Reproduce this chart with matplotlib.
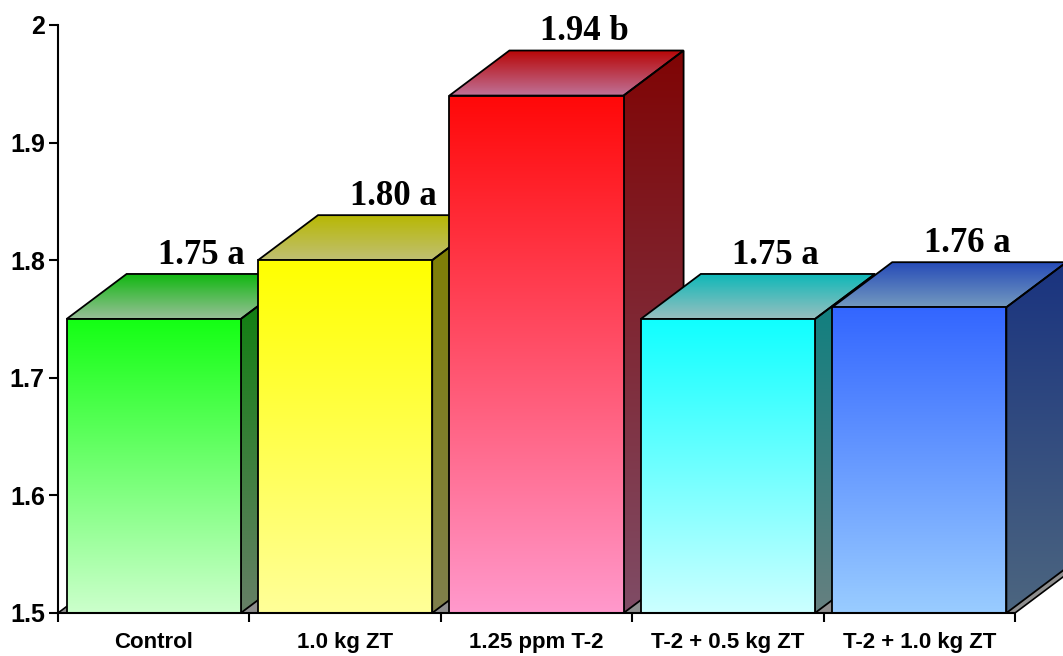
import numpy as np
import matplotlib
matplotlib.use("Agg")
import matplotlib.pyplot as plt
from matplotlib.patches import Polygon
from matplotlib.colors import to_rgb

# Data
categories = ["Control", "1.0 kg ZT", "1.25 ppm T-2", "T-2 + 0.5 kg ZT", "T-2 + 1.0 kg ZT"]
values = [1.75, 1.80, 1.94, 1.75, 1.76]
letters = ["a", "a", "b", "a", "a"]
top_colors = ["#14FF14", "#FFFF00", "#FF0808", "#10FFFF", "#3366FF"]
bottom_colors = ["#CCFFCC", "#FFFF99", "#FF99CC", "#CCFFFF", "#99CCFF"]
y_ticks = [1.5, 1.6, 1.7, 1.8, 1.9, 2.0]
y_tick_labels = ["1.5", "1.6", "1.7", "1.8", "1.9", "2"]

BASE = 1.5
WIDTH = 0.91      # bar width in category units
DX = 0.3135       # oblique depth, x (category units)
DY = 0.0383       # oblique depth, y (data units)

fig = plt.figure(figsize=(10.63, 6.56), dpi=100)
ax = fig.add_axes([58 / 1063, 43 / 656, 1005 / 1063, 588 / 656])
ax.set_xlim(-0.5, -0.5 + 5 * 1005 / 957)
ax.set_ylim(BASE, 2.0)


def shaded_face(verts, c_top, c_bottom, z):
    """Fill a polygon with a vertical gradient and outline it."""
    xs = [v[0] for v in verts]
    ys = [v[1] for v in verts]
    t = np.linspace(0, 1, 256)[:, None]
    grad = (1 - t) * np.array(c_top) + t * np.array(c_bottom)
    im = ax.imshow(grad[:, None, :], extent=(min(xs), max(xs), min(ys), max(ys)),
                   origin="upper", aspect="auto", interpolation="bilinear", zorder=z)
    im.set_clip_path(Polygon(verts, closed=True, transform=ax.transData))
    ax.add_patch(Polygon(verts, closed=True, facecolor="none", edgecolor="black",
                         lw=1.3, zorder=z + 0.1, joinstyle="miter"))


def scale(c, f):
    return tuple(min(1.0, ch * f) for ch in to_rgb(c))


# Floor
floor = [(-0.5, BASE), (4.5, BASE), (4.5 + DX, BASE + DY), (-0.5 + DX, BASE + DY)]
ax.add_patch(Polygon(floor, closed=True, facecolor="#8E8E8E", edgecolor="black",
                     lw=1.2, zorder=1))

# Bars, drawn left to right so each bar hides the side of its neighbour
for i, (v, ct, cb) in enumerate(zip(values, top_colors, bottom_colors)):
    x0 = i - WIDTH / 2
    x1 = i + WIDTH / 2
    z = 2 + 2 * i
    side = [(x1, BASE), (x1 + DX, BASE + DY), (x1 + DX, v + DY), (x1, v)]
    shaded_face(side, scale(ct, 0.5), scale(cb, 0.5), z)
    top = [(x0, v), (x1, v), (x1 + DX, v + DY), (x0 + DX, v + DY)]
    shaded_face(top, scale(ct, 0.72), scale(cb, 0.75), z)
    front = [(x0, BASE), (x1, BASE), (x1, v), (x0, v)]
    shaded_face(front, to_rgb(ct), to_rgb(cb), z + 1)

# Value labels with significance letters
for i, (v, let) in enumerate(zip(values, letters)):
    ax.annotate(f"{v:.2f} {let}", xy=(i + 0.25, v + DY), xytext=(0, 7.5),
                textcoords="offset points", ha="center", va="baseline",
                fontsize=25, fontweight="bold", family="Liberation Serif",
                zorder=40)

# Axes styling
for s in ("top", "right"):
    ax.spines[s].set_visible(False)
for s in ("left", "bottom"):
    ax.spines[s].set_linewidth(1.5)
    ax.spines[s].set_zorder(30)
ax.spines["bottom"].set_bounds(-0.5, 4.5)

ax.set_yticks(y_ticks)
ax.set_yticklabels(y_tick_labels, fontsize=18, fontweight="bold", family="Liberation Sans")
ax.tick_params(axis="y", direction="out", length=6.5, width=1.5, pad=3)

ax.set_xticks(range(len(categories)))
ax.set_xticklabels(categories, fontsize=16, fontweight="bold", family="Liberation Sans")
ax.set_xticks(np.arange(-0.5, 5.0, 1.0), minor=True)
ax.tick_params(axis="x", which="major", length=0, pad=14)
ax.tick_params(axis="x", which="minor", direction="out", length=6.5, width=1.5)

fig.savefig("out.png", dpi=100)
